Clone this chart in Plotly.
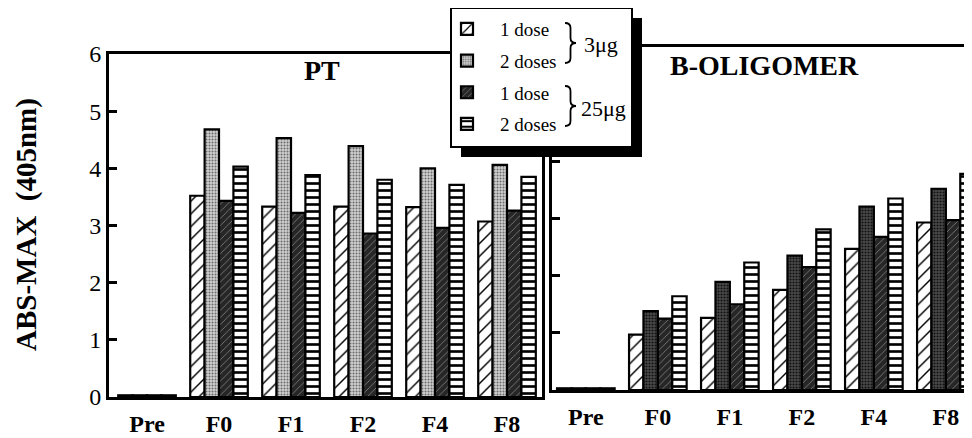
import plotly.graph_objects as go

# ---------------- data ----------------
categories = ["Pre", "F0", "F1", "F2", "F4", "F8"]
series_names = ["1 dose", "2 doses", "1 dose", "2 doses"]

pt_1dose_3ug = [0.03, 3.52, 3.33, 3.33, 3.32, 3.07]
pt_2dose_3ug = [0.03, 4.68, 4.53, 4.39, 4.00, 4.06]
pt_1dose_25ug = [0.03, 3.43, 3.22, 2.86, 2.96, 3.26]
pt_2dose_25ug = [0.03, 4.03, 3.88, 3.80, 3.71, 3.85]

bo_1dose_3ug = [0.03, 0.97, 1.26, 1.75, 2.47, 2.93]
bo_2dose_3ug = [0.03, 1.38, 1.89, 2.35, 3.21, 3.52]
bo_1dose_25ug = [0.03, 1.25, 1.50, 2.15, 2.68, 2.97]
bo_2dose_25ug = [0.03, 1.64, 2.23, 2.81, 3.35, 3.78]

y_ticks = [0, 1, 2, 3, 4, 5, 6]
panel_titles = ["PT", "B-OLIGOMER"]
y_title = "ABS-MAX  (405nm)"
dose_labels = ["3\u03bcg", "25\u03bcg"]

# ---------------- geometry helpers ----------------
# the page body has an 8px margin, so screen pixel X maps to figure pixel X-8
W, H = 972, 438
OFF = 8
def px(x):
    return (x - OFF) / W
def py(y):
    return 1 - (y - OFF) / H

SERIF = "Liberation Serif"

def style(i, panel):
    if i == 0:
        return dict(color="white", pattern=dict(shape="/", fgcolor="black", bgcolor="white",
                                                size=9, solidity=0.16, fillmode="replace"))
    if i == 1:
        if panel == 0:
            return dict(color="#c4c4c4", pattern=dict(shape=".", fgcolor="#6a6a6a", bgcolor="#d0d0d0",
                                                      size=3, solidity=0.35, fillmode="replace"))
        return dict(color="#3c3c3c", pattern=dict(shape=".", fgcolor="#111111", bgcolor="#4a4a4a",
                                                  size=3, solidity=0.4, fillmode="replace"))
    if i == 2:
        return dict(color="#262626", pattern=dict(shape="/", fgcolor="#8a8a8a", bgcolor="#262626",
                                                  size=5, solidity=0.15, fillmode="replace"))
    return dict(color="white", pattern=dict(shape="-", fgcolor="black", bgcolor="white",
                                            size=7, solidity=0.38, fillmode="replace"))

fig = go.Figure()
panels = [
    [pt_1dose_3ug, pt_2dose_3ug, pt_1dose_25ug, pt_2dose_25ug],
    [bo_1dose_3ug, bo_2dose_3ug, bo_1dose_25ug, bo_2dose_25ug],
]
for p, vals in enumerate(panels):
    for i, v in enumerate(vals):
        st = style(i, p)
        fig.add_trace(go.Bar(
            x=categories, y=v, name=series_names[i],
            legendgroup="g%d" % i, showlegend=(p == 0),
            offsetgroup=str(i),
            marker=dict(color=st["color"], pattern=st["pattern"],
                        line=dict(color="black", width=2.2)),
            xaxis="x" if p == 0 else "x2", yaxis="y" if p == 0 else "y2",
        ))

axis_common = dict(showline=True, linecolor="black", linewidth=3, showgrid=False,
                   zeroline=False, automargin=False)

fig.update_layout(
    width=W, height=H,
    margin=dict(l=0, r=0, t=0, b=0),
    paper_bgcolor="white", plot_bgcolor="white",
    barmode="group", bargap=0.2, bargroupgap=0,
    font=dict(family=SERIF, color="black"),
    xaxis=dict(domain=[px(109), px(541.5)], range=[-0.528, 5.479], mirror=True,
               ticks="", tickfont=dict(family=SERIF, size=24, weight="bold"),
               ticklabelstandoff=3, anchor="y", **axis_common),
    yaxis=dict(domain=[py(397), py(54)], range=[0, 6], mirror=True, tickvals=y_ticks,
               ticks="inside", ticklen=8, tickwidth=2.5, tickcolor="black",
               tickfont=dict(family=SERIF, size=24), ticklabelstandoff=0,
               anchor="x", **axis_common),
    xaxis2=dict(domain=[px(552), 1.0], range=[-0.47, 5.474], mirror=True,
                ticks="", tickfont=dict(family=SERIF, size=24, weight="bold"),
                ticklabelstandoff=3, anchor="y2", **axis_common),
    yaxis2=dict(domain=[py(390), py(47)], range=[0, 6], mirror=False, tickvals=y_ticks,
                ticks="inside", ticklen=8, tickwidth=2.5, tickcolor="black",
                showticklabels=False, anchor="x2", **axis_common),
    legend=dict(x=px(434), y=py(10), xanchor="left", yanchor="top",
                bgcolor="rgba(0,0,0,0)", borderwidth=0,
                font=dict(family=SERIF, size=19), traceorder="grouped",
                tracegroupgap=4, itemwidth=56),
    showlegend=True,
)

# legend box with drop shadow
fig.add_shape(type="rect", xref="paper", yref="paper", layer="above",
              x0=px(461), x1=px(642), y0=py(157), y1=py(18),
              fillcolor="black", line=dict(width=0))
fig.add_shape(type="rect", xref="paper", yref="paper", layer="above",
              x0=px(451), x1=px(632), y0=py(147), y1=py(8),
              fillcolor="white", line=dict(color="black", width=2))

def brace(x0, y0, y1, w):
    xm = x0 + w / 2
    ym = (y0 + y1) / 2
    r = 5
    pts = [("M", x0, y0), ("Q", xm, y0), ("", xm, y0 + r), ("L", xm, ym - r),
           ("Q", xm, ym), ("", x0 + w, ym), ("Q", xm, ym), ("", xm, ym + r),
           ("L", xm, y1 - r), ("Q", xm, y1), ("", x0, y1)]
    s = ""
    for c, x, y in pts:
        s += "%s%.5f,%.5f " % (c, px(x), py(y))
    return s.strip()

for (y0, y1) in [(23, 63), (86, 126)]:
    fig.add_shape(type="path", xref="paper", yref="paper", layer="above",
                  path=brace(565, y0, y1, 11), line=dict(color="black", width=1.8))

def label(x, y, text, size, angle=0):
    fig.add_annotation(x=px(x), y=py(y), xref="paper", yref="paper", text=text,
                       xanchor="center", yanchor="middle", textangle=angle,
                       showarrow=False, font=dict(family=SERIF, size=size))

label(601, 44, dose_labels[0], 22)
label(603, 108, dose_labels[1], 22)
label(322, 70, "<b>%s</b>" % panel_titles[0], 28)
label(764, 66, "<b>%s</b>" % panel_titles[1], 28)
label(26, 225, "<b>%s</b>" % y_title, 29, angle=-90)

fig.write_html("out.html")
